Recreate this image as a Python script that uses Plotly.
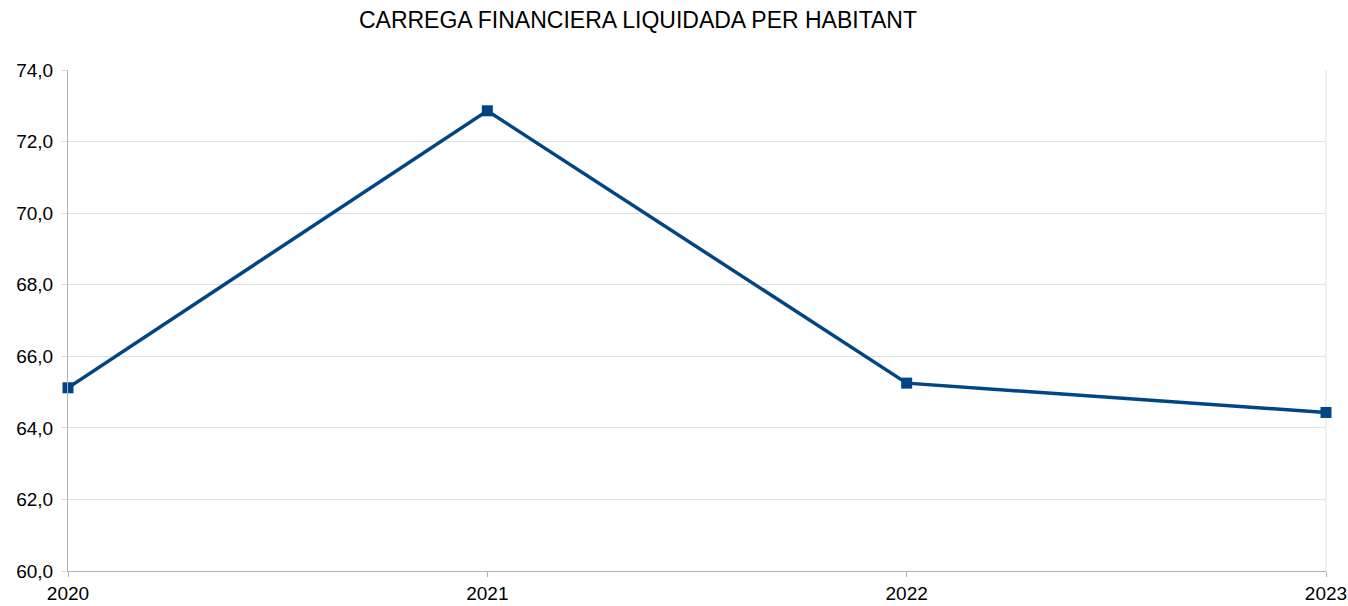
import plotly.graph_objects as go

years = [2020, 2021, 2022, 2023]
values = [65.12, 72.86, 65.25, 64.43]
y_ticks = [60, 62, 64, 66, 68, 70, 72, 74]
title_text = "CARREGA FINANCIERA LIQUIDADA PER HABITANT"

W, H = 1348, 606

fig = go.Figure()
fig.add_trace(go.Scatter(
    x=years, y=values, mode="lines+markers",
    line=dict(color="#004586", width=3.5),
    marker=dict(symbol="square", size=11, color="#004586"),
    showlegend=False, cliponaxis=False,
))

fig.update_layout(
    width=W, height=H,
    margin=dict(l=68, r=22, t=70, b=35),
    paper_bgcolor="white", plot_bgcolor="white",
    separators=",.",
    font=dict(family="Liberation Sans, Arial, sans-serif", size=19, color="#000000"),
    title=dict(text=title_text, x=638 / W, xanchor="center", y=1 - 20 / H, yanchor="middle",
               font=dict(size=23, color="#000000")),
    xaxis=dict(
        range=[2020, 2023], tickvals=years, ticktext=[str(y) for y in years],
        showgrid=False, zeroline=False, showline=True, linecolor="#b3b3b3", linewidth=1,
        ticks="outside", ticklen=5, tickcolor="#b3b3b3", automargin=False,
        ticklabeloverflow="allow",
    ),
    yaxis=dict(
        range=[60, 74], tickvals=y_ticks, tickformat=".1f",
        showgrid=True, gridcolor="#e0e0e0", gridwidth=1, zeroline=False,
        showline=True, linecolor="#b3b3b3", linewidth=1,
        ticks="outside", ticklen=6, tickcolor="#e0e0e0", automargin=False,
        ticklabelstandoff=4, ticklabeloverflow="allow",
    ),
    shapes=[dict(type="line", xref="x domain", yref="y domain", x0=1, x1=1, y0=0, y1=1,
                 line=dict(color="#e0e0e0", width=1), layer="below")],
)

fig.write_html(
    "out.html",
    config={"displayModeBar": False},
    post_script="document.body.style.margin='0';document.body.style.overflow='hidden';",
)
